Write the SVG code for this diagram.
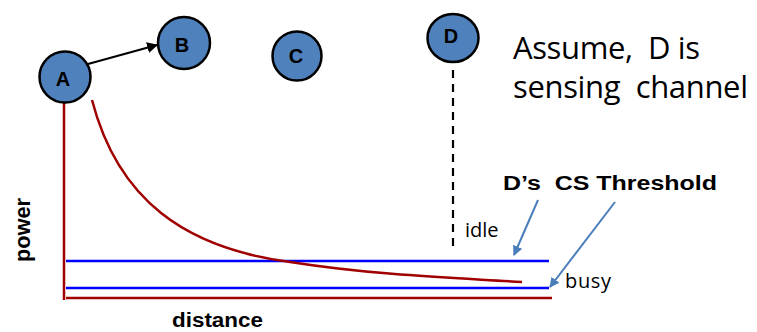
<svg xmlns="http://www.w3.org/2000/svg" width="757" height="332" viewBox="0 0 757 332">
<defs>
<marker id="ah" viewBox="0 0 10 10" refX="9" refY="5" markerWidth="5" markerHeight="5" orient="auto"><path d="M0,0 L10,5 L0,10 z" fill="#000"/></marker>
<marker id="bh" viewBox="0 0 10 10" refX="9" refY="5" markerWidth="5" markerHeight="5" orient="auto"><path d="M0,0 L10,5 L0,10 z" fill="#4a7ebb"/></marker>
</defs>
<style>
.node{fill:#4f81bd;stroke:#000;stroke-width:2.5}
.nl{font-family:"Liberation Sans",Arial,sans-serif;font-weight:bold;font-size:20px;fill:#000;text-anchor:middle}
.red{stroke:#a00000;stroke-width:2.5;fill:none}
.blue{stroke:#0000ff;stroke-width:2.5;fill:none}
.lab{font-family:"Open Sans","Liberation Sans",sans-serif;fill:#000}
.bl{font-family:"Liberation Sans",Arial,sans-serif;font-weight:bold;fill:#000}
</style>
<rect width="757" height="332" fill="#fff"/>
<g id="connectors">
<line x1="88" y1="64" x2="157" y2="45" stroke="#000" stroke-width="2.2" marker-end="url(#ah)"/>
<line x1="453" y1="70" x2="453" y2="252" stroke="#000" stroke-width="2.2" stroke-dasharray="8,6"/>
<line x1="538" y1="200" x2="514" y2="255" stroke="#4a7ebb" stroke-width="2" marker-end="url(#bh)"/>
<line x1="615" y1="202" x2="550" y2="287" stroke="#4a7ebb" stroke-width="2" marker-end="url(#bh)"/>
</g>
<g id="plot">
<line class="red" x1="64" y1="100" x2="64" y2="300"/>
<line class="red" x1="66" y1="298" x2="552" y2="298"/>
<line class="blue" x1="66" y1="261" x2="549" y2="261"/>
<line class="blue" x1="66" y1="288" x2="549" y2="288"/>
<path class="red" d="M92,100 C118,200 185,248 290,262 C380,276 460,278 522,282"/>
</g>
<g id="A"><circle class="node" cx="65" cy="77" r="25.5"/><text class="nl" x="63" y="86">A</text></g>
<g id="B"><circle class="node" cx="184" cy="43" r="26"/><text class="nl" x="182" y="52" font-size="23">B</text></g>
<g id="C"><circle class="node" cx="297" cy="56" r="24.5"/><text class="nl" x="296" y="63">C</text></g>
<g id="D"><ellipse class="node" cx="453" cy="38" rx="25.5" ry="24"/><text class="nl" x="451" y="43" font-size="18">D</text></g>
<text class="lab" x="513" y="59" font-size="31" textLength="187" xml:space="preserve">Assume,  D is</text>
<text class="lab" x="513" y="98" font-size="31" textLength="235" xml:space="preserve">sensing  channel</text>
<text class="bl" x="503" y="190" font-size="20" textLength="214" lengthAdjust="spacingAndGlyphs" xml:space="preserve">D’s  CS Threshold</text>
<text class="lab" x="465" y="237" font-size="20">idle</text>
<text class="lab" x="565" y="288" font-size="20" textLength="46">busy</text>
<text class="bl" x="172" y="327" font-size="20" textLength="91" lengthAdjust="spacingAndGlyphs">distance</text>
<text class="bl" transform="translate(30,262) rotate(-90)" font-size="22" textLength="64" lengthAdjust="spacingAndGlyphs">power</text>
</svg>
